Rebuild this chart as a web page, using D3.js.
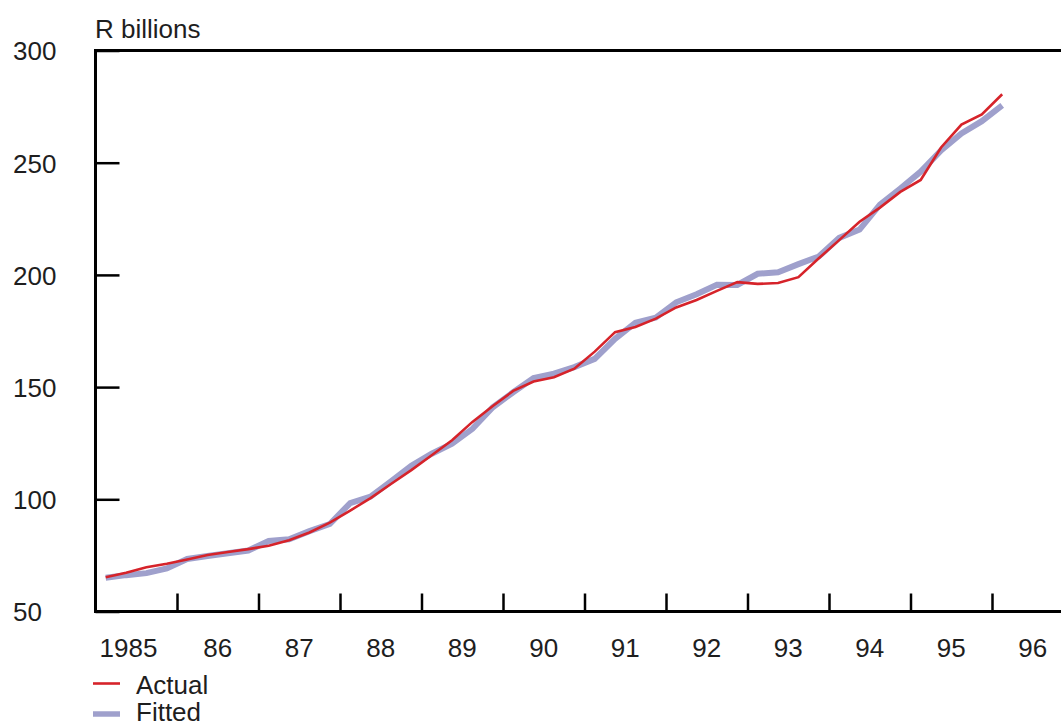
<!DOCTYPE html>
<html>
<head>
<meta charset="utf-8">
<script src="https://cdn.jsdelivr.net/npm/d3@7"></script>
<style>
  html, body { margin: 0; padding: 0; background: #fff; }
  svg { display: block; }
  text { font-family: "Liberation Sans", Arial, Helvetica, sans-serif; fill: #1e1e1e; }
</style>
</head>
<body>
<svg id="chart" width="1061" height="727"></svg>
<script>
// Quarterly observations, 1985Q1 to 1996Q1 (R billions)
const startYear = 1985;
const actual = [
  65.3, 67.3, 69.7, 71.3,
  73.2, 75.2, 76.5, 77.8,
  79.3, 81.8, 85.2, 89.6,
  95.0, 100.5, 106.8, 113.0,
  119.6, 126.3, 134.5, 141.6,
  148.3, 152.5, 154.4, 158.2,
  165.8, 174.5, 176.8, 180.5,
  185.5, 188.8, 192.9, 196.8,
  196.0, 196.4, 199.0, 207.4,
  215.5, 223.7, 230.0, 237.0,
  242.3, 256.8, 267.0, 271.5,
  280.5
];
const fitted = [
  65.0, 66.2, 67.1, 69.2,
  73.4, 74.7, 76.0, 77.2,
  81.4, 82.2, 85.8, 89.0,
  98.3, 101.2, 108.0, 115.0,
  120.3, 124.8, 131.4, 141.0,
  147.7, 154.0, 156.0, 158.9,
  162.6, 171.5, 178.7, 181.0,
  187.8, 191.4, 195.6, 195.5,
  200.5, 201.2, 204.8, 208.2,
  216.5, 220.2, 231.3, 238.5,
  246.0, 255.5, 263.0, 268.5,
  275.5
];
const yearLabels = ["1985", "86", "87", "88", "89", "90", "91", "92", "93", "94", "95", "96"];
const yTicks = [50, 100, 150, 200, 250, 300];
const legendItems = ["Actual", "Fitted"];

const svg = d3.select("#chart");
const W = 1061;
const plotLeft = 95.5, plotTop = 50.5, plotBottom = 611.5;
const fontSize = "26px";

const x = d3.scaleLinear().domain([1985, 1997]).range([plotLeft, plotLeft + 12 * 81.5]);
const y = d3.scaleLinear().domain([50, 300]).range([plotBottom, plotTop]);

const quarterX = i => x(startYear + (i + 0.5) / 4);

const colActual = "#d6232a";
const colFitted = "#9fa0cc";

// Series lines
const line = d3.line().x((d, i) => quarterX(i)).y(d => y(d));
svg.append("path").datum(fitted)
  .attr("d", line).attr("fill", "none")
  .attr("stroke", colFitted).attr("stroke-width", 6)
  .attr("stroke-linejoin", "miter");
svg.append("path").datum(actual)
  .attr("d", line).attr("fill", "none")
  .attr("stroke", colActual).attr("stroke-width", 2.6)
  .attr("stroke-linejoin", "miter");

// Frame: top border, left axis and bottom axis
const frame = svg.append("g").attr("stroke", "#000").attr("stroke-width", 3);
frame.append("line").attr("x1", plotLeft).attr("x2", W).attr("y1", plotTop).attr("y2", plotTop);
frame.append("line").attr("x1", plotLeft).attr("x2", plotLeft).attr("y1", plotTop - 1.5).attr("y2", plotBottom + 1.5);
frame.append("line").attr("x1", plotLeft).attr("x2", W).attr("y1", plotBottom).attr("y2", plotBottom);

// Y ticks point inward, labels sit at the far left
const yAxis = d3.axisRight(y).tickValues(yTicks).tickSize(24).tickFormat(d3.format("d"));
const gy = svg.append("g").attr("transform", `translate(${plotLeft},0)`).call(yAxis);
gy.select(".domain").remove();
gy.selectAll(".tick line").attr("stroke", "#000").attr("stroke-width", 2.5);
gy.selectAll(".tick text")
  .attr("x", 13 - plotLeft).attr("dy", "0.36em")
  .attr("text-anchor", "start")
  .style("font-size", fontSize)
  .style("font-family", "'Liberation Sans', Arial, sans-serif")
  .attr("fill", "#1e1e1e");

// X ticks at year boundaries, pointing up into the plot
const yearTicks = d3.range(1986, 1997);
const xAxis = d3.axisTop(x).tickValues(yearTicks).tickSize(18).tickFormat("");
const gx = svg.append("g").attr("transform", `translate(0,${plotBottom})`).call(xAxis);
gx.select(".domain").remove();
gx.selectAll(".tick line").attr("stroke", "#000").attr("stroke-width", 2.5);

// Year labels centred in each year's span
svg.append("g").selectAll("text").data(yearLabels).join("text")
  .attr("x", (d, i) => i === 0 ? x(startYear) + 4 : x(startYear + i + 0.5))
  .attr("y", 657)
  .attr("text-anchor", (d, i) => i === 0 ? "start" : "middle")
  .style("font-size", fontSize)
  .text(d => d);

// Unit label
svg.append("text").attr("x", 95).attr("y", 37.5)
  .style("font-size", fontSize).text("R billions");

// Legend
const lg = svg.append("g");
lg.append("line").attr("x1", 93).attr("x2", 120).attr("y1", 683.5).attr("y2", 683.5)
  .attr("stroke", colActual).attr("stroke-width", 2.6);
lg.append("line").attr("x1", 93).attr("x2", 120).attr("y1", 714).attr("y2", 714)
  .attr("stroke", colFitted).attr("stroke-width", 5.5);
lg.selectAll("text").data(legendItems).join("text")
  .attr("x", 136).attr("y", (d, i) => 693.5 + i * 27.5)
  .style("font-size", fontSize).text(d => d);
</script>
</body>
</html>
